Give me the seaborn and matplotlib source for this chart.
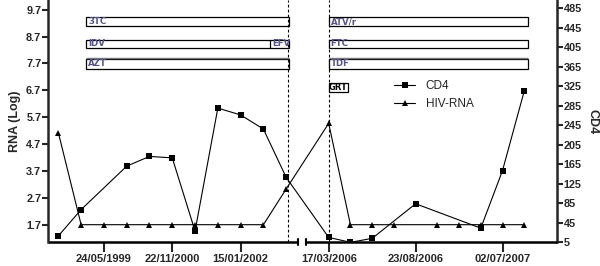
import numpy as np
import pandas as pd
import matplotlib
matplotlib.use("Agg")
import matplotlib.pyplot as plt
import seaborn as sns
from matplotlib.lines import Line2D

# ---------------- data ----------------
# visits before the break (left segment) and after the break (right segment)
cd4_left = [18, 72, np.nan, 161, 181, 178, 28, 280, 266, 237, 138]
rna_left = [5.13, 1.7, 1.7, 1.7, 1.7, 1.7, 1.7, 1.7, 1.7, 1.7, 3.03]
cd4_right = [15, 5, 13, np.nan, 84, np.nan, np.nan, 34, 152, 315]
rna_right = [5.47, 1.7, 1.7, 1.7, np.nan, 1.7, 1.7, 1.7, 1.7, 1.7]

tick_labels_left = ["24/05/1999", "22/11/2000", "15/01/2002"]
tick_idx_left = [2, 5, 8]
tick_labels_right = ["17/03/2006", "23/08/2006", "02/07/2007"]
tick_idx_right = [0, 4, 8]

rna_ticks = [1.7, 2.7, 3.7, 4.7, 5.7, 6.7, 7.7, 8.7, 9.7]
cd4_ticks = [5, 45, 85, 125, 165, 205, 245, 285, 325, 365, 405, 445, 485]

regimen_left = ["3TC", "IDV", "AZT"]
regimen_right = ["ATV/r", "FTC", "TDF"]

# ---------------- layout (x positions in index units) ----------------
x_left = np.arange(len(cd4_left)).astype(float)
right_start, right_step = 11.865, 0.9535
x_right = right_start + right_step * np.arange(len(cd4_right))

x_all = np.concatenate([x_left, x_right])
df = pd.DataFrame({
    "x": x_all,
    "CD4": np.concatenate([cd4_left, cd4_right]),
    "RNA": np.concatenate([rna_left, rna_right]),
})

sns.set_style("ticks")
plt.rcParams["font.family"] = ["Liberation Sans", "DejaVu Sans"]

fig = plt.figure(figsize=(6.0, 2.66), dpi=100)
ax = fig.add_axes([0.0805, 0.0891, 0.8473, 0.9109])
ax2 = ax.twinx()

d_rna = df[["x", "RNA"]].dropna()
d_cd4 = df[["x", "CD4"]].dropna()
sns.lineplot(data=d_rna, x="x", y="RNA", ax=ax, color="black", lw=0.8,
             marker="^", markersize=4.2, markeredgewidth=0, sort=False,
             estimator=None)
sns.lineplot(data=d_cd4, x="x", y="CD4", ax=ax2, color="black", lw=0.8,
             marker="s", markersize=4.3, markeredgewidth=0, sort=False,
             estimator=None)

xl = (-0.44, 21.87)
ax.set_xlim(*xl)
ax.set_ylim(1.045, 10.06)
ax2.set_ylim(5, 501.5)

ax.set_yticks(rna_ticks)
ax.set_yticklabels([f"{v:.1f}" for v in rna_ticks])
ax2.set_yticks(cd4_ticks)
ax2.set_yticklabels([str(v) for v in cd4_ticks])

xt = [x_left[i] for i in tick_idx_left] + [x_right[j] for j in tick_idx_right]
ax.set_xticks(xt)
ax.set_xticklabels(tick_labels_left + tick_labels_right)

for a in (ax, ax2):
    for s in a.spines.values():
        s.set_linewidth(1.8)
    a.spines["top"].set_visible(False)
    a.spines["bottom"].set_visible(False)
ax.spines["right"].set_visible(False)
ax2.spines["left"].set_visible(False)

ax.tick_params(axis="y", length=4, width=1.5, labelsize=7.8, pad=1)
ax2.tick_params(axis="y", length=4, width=1.5, labelsize=7.8, pad=1)
ax.tick_params(axis="x", length=7, width=1.5, labelsize=8.0, pad=1.2)
for lab in ax.get_yticklabels() + ax2.get_yticklabels() + ax.get_xticklabels():
    lab.set_fontweight("bold")

ax.set_xlabel("")
ax.set_ylabel("RNA (Log)", fontsize=9, fontweight="bold", labelpad=4)
ax2.set_ylabel("CD4", fontsize=9, fontweight="bold", rotation=270, labelpad=12)

# broken bottom axis
brk_l, brk_r = 10.53, 10.86
trans = ax.get_xaxis_transform()
ax.plot([xl[0], brk_l], [0, 0], transform=trans, color="black", lw=1.8,
        clip_on=False, solid_capstyle="butt")
ax.plot([brk_r, xl[1]], [0, 0], transform=trans, color="black", lw=1.8,
        clip_on=False, solid_capstyle="butt")
for xb in (brk_l, brk_r):
    ax.plot([xb, xb], [-0.012, 0.012], transform=trans, color="black",
            lw=1.5, clip_on=False)

# dashed vertical event lines
for xv in (10.09, x_right[0]):
    ax.axvline(xv, color="black", lw=0.8, ls=(0, (2.5, 2)), zorder=1)

# regimen boxes
box_rows = [(9.08, 9.41), (8.26, 8.59), (7.50, 7.86)]
txt_col = "#55558a"
lab_font = ["DejaVu Sans"]


def draw_box(x0, x1, y0, y1, label, top_grey=False):
    ax.add_patch(plt.Rectangle((x0, y0), x1 - x0, y1 - y0, fill=False,
                               ec="black", lw=0.9, zorder=3))
    if top_grey:
        ax.plot([x0, x1], [y1 + 0.03, y1 + 0.03], color="#777777", lw=1.0,
                zorder=3, solid_capstyle="butt")
    ax.text(x0 + 0.08, (y0 + y1) / 2, label, fontsize=6.2, color=txt_col,
            fontweight="bold", va="center", ha="left", zorder=4,
            family=lab_font)


left_x0, left_x1 = 1.23, 10.13
right_x0, right_x1 = x_right[0], 20.63
for k, ((y0, y1), lab) in enumerate(zip(box_rows, regimen_left)):
    draw_box(left_x0, left_x1, y0, y1, lab, top_grey=(k == 2))
for k, ((y0, y1), lab) in enumerate(zip(box_rows, regimen_right)):
    draw_box(right_x0, right_x1, y0, y1, lab, top_grey=(k == 2))
# EFV sub-segment in IDV row
efv_x0 = 9.30
ax.plot([efv_x0, efv_x0], box_rows[1], color="black", lw=0.9, zorder=4)
ax.text(efv_x0 + 0.08, sum(box_rows[1]) / 2, "EFV", fontsize=6.2,
        color=txt_col, fontweight="bold", va="center", ha="left", zorder=4,
        family=lab_font)
# GRT box
ax.add_patch(plt.Rectangle((x_right[0], 6.63), 0.85, 0.33, fill=True,
                           fc="white", ec="black", lw=0.9, zorder=3))
ax.text(x_right[0] + 0.42, 6.795, "GRT", fontsize=6.0, color="black",
        fontweight="bold", va="center", ha="center", zorder=4,
        family=lab_font)

# legend
h = [Line2D([], [], color="black", lw=0.8, marker="s", ms=4.3, mew=0),
     Line2D([], [], color="black", lw=0.8, marker="^", ms=4.2, mew=0)]
ax2.legend(h, ["CD4", "HIV-RNA"], loc="upper left",
           bbox_to_anchor=(0.659, 0.715), frameon=False, fontsize=8.5,
           handlelength=1.8, handletextpad=0.9, labelspacing=0.55)

ax.set_zorder(ax2.get_zorder() + 1)
ax.patch.set_visible(False)

fig.savefig("out.png", dpi=100)
